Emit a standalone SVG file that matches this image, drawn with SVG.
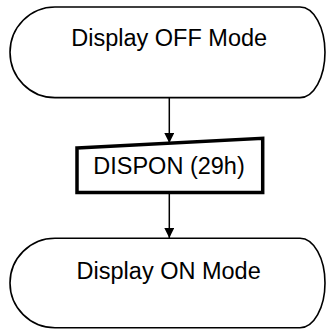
<svg xmlns="http://www.w3.org/2000/svg" width="326" height="331" viewBox="0 0 326 331">
<defs>
<style>
.term{fill:#fff;stroke:#000;stroke-width:1.6}
.proc{fill:#fff;stroke:#000;stroke-width:3.5;stroke-linejoin:miter}
.lbl{font-family:"Liberation Sans",Arial,sans-serif;font-size:23.5px;fill:#000;text-anchor:middle}
.conn{stroke:#000;stroke-width:1.5;fill:none}
</style>
<marker id="ah" markerWidth="10" markerHeight="10" refX="10" refY="5" orient="auto" markerUnits="userSpaceOnUse">
<path d="M0,0 L10,5 L0,10 Z" fill="#000"/>
</marker>
</defs>
<rect width="326" height="331" fill="#fff"/>
<g id="connectors">
<line class="conn" x1="169.3" y1="97.5" x2="169.3" y2="143" marker-end="url(#ah)"/>
<line class="conn" x1="169.3" y1="192.5" x2="169.3" y2="238" marker-end="url(#ah)"/>
</g>
<g id="display-off">
<path class="term" d="M55,7 H300 A25,45.3 0 0 1 300,97.6 H55 A45,45.3 0 0 1 55,7 Z"/>
<text class="lbl" x="169.2" y="46">Display OFF Mode</text>
</g>
<g id="dispon">
<polygon class="proc" points="77,148 262.7,138.3 262.7,192.5 77,192.5"/>
<text class="lbl" x="169" y="174">DISPON (29h)</text>
</g>
<g id="display-on">
<path class="term" d="M55,238.3 H300 A25,44.7 0 0 1 300,327.7 H55 A45,44.7 0 0 1 55,238.3 Z"/>
<text class="lbl" x="168.7" y="279.3">Display ON Mode</text>
</g>
</svg>
